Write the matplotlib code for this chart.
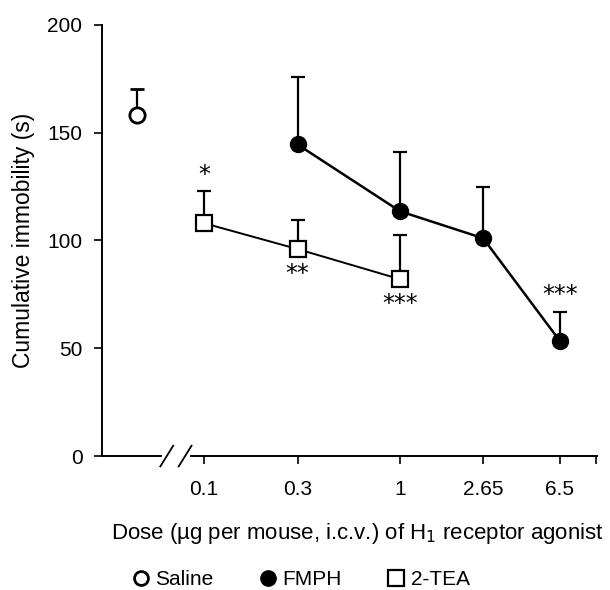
import matplotlib.pyplot as plt
from matplotlib.lines import Line2D

plt.rcParams['font.family'] = ['Liberation Sans', 'DejaVu Sans']

# data
saline_dose = 0.0455          # plotted left of the axis break
saline_mean = 158
saline_sem = 12

fmph_dose = [0.3, 1, 2.65, 6.5]
fmph_mean = [144.5, 113.5, 101, 53.5]
fmph_sem = [31.5, 27.5, 24, 13.5]

tea_dose = [0.1, 0.3, 1]
tea_mean = [108, 96, 82]
tea_sem = [15, 13.5, 20.5]

tick_doses = [0.1, 0.3, 1, 2.65, 6.5, 10]
tick_labels = ['0.1', '0.3', '1', '2.65', '6.5', '']

# significance marks: (dose, mean, sem, label, above error bar?)
stars = [(0.1, 108, 15, '*', True),
         (0.3, 96, 13.5, '**', False),
         (1, 82, 20.5, '***', False),
         (6.5, 53.5, 13.5, '***', True)]

fig = plt.figure(figsize=(6.1, 5.9), dpi=100)
ax = fig.add_axes([0.167, 0.227, 0.812, 0.731])

err_kw = dict(capsize=5, elinewidth=1.6, capthick=1.6, ecolor='black')

ax.errorbar(fmph_dose, fmph_mean, yerr=[[0]*len(fmph_sem), fmph_sem],
            color='black', lw=1.8, marker='o', ms=11.5, mfc='black', mec='black', zorder=3,
            **err_kw)
ax.errorbar(tea_dose, tea_mean, yerr=[[0]*len(tea_sem), tea_sem],
            color='black', lw=1.4, marker='s', ms=12, mfc='white', mec='black', mew=1.6,
            zorder=4, **err_kw)
ax.errorbar([saline_dose], [saline_mean], yerr=[[0], [saline_sem]],
            color='black', marker='o', ms=11, mfc='white', mec='black', mew=2, zorder=4,
            **err_kw)

for d, m, s, lab, above in stars:
    if above:
        ax.text(d, m + s + 2, lab, ha='center', va='bottom', fontsize=17,
                family='DejaVu Sans')
    else:
        ax.text(d, m - 6, lab, ha='center', va='top', fontsize=17,
                family='DejaVu Sans')

ax.set_xscale('log')
ax.set_xlim(0.0302, 10.1)
ax.set_ylim(0, 200)
ax.set_xticks(tick_doses)
ax.set_xticklabels(tick_labels)
ax.minorticks_off()
ax.set_yticks([0, 50, 100, 150, 200])
ax.tick_params(direction='out', length=6, width=1.2, labelsize=15, color='black')
ax.tick_params(axis='x', pad=11)
ax.tick_params(axis='y', pad=8)

for side in ['top', 'right']:
    ax.spines[side].set_visible(False)
for side in ['left', 'bottom']:
    ax.spines[side].set_linewidth(1.4)

ax.set_ylabel('Cumulative immobility (s)', fontsize=16.5, labelpad=9)
ax.set_xlabel('Dose (\u00b5g per mouse, i.c.v.) of H$_1$ receptor agonist',
              fontsize=16, labelpad=16, x=0.515)

# axis break "//"
ax.plot([0.126, 0.173], [0, 0], color='white', lw=3,
        transform=ax.transAxes, clip_on=False, zorder=5)
for xb in [0.131, 0.168]:
    ax.plot([xb - 0.013, xb + 0.013], [-0.024, 0.024], color='black', lw=1.3,
            transform=ax.transAxes, clip_on=False, zorder=6)

handles = [Line2D([], [], ls='none', marker='o', ms=10, mfc='white', mec='black', mew=2),
           Line2D([], [], ls='none', marker='o', ms=11, mfc='black', mec='black'),
           Line2D([], [], ls='none', marker='s', ms=11, mfc='white', mec='black', mew=1.6)]
fig.legend(handles, ['Saline', 'FMPH', '2-TEA'], loc='lower center',
           bbox_to_anchor=(0.49, -0.03), ncol=3, frameon=False, fontsize=15,
           handletextpad=0.1, columnspacing=2.0, handlelength=1.2)

fig.savefig('out.png', dpi=100)
